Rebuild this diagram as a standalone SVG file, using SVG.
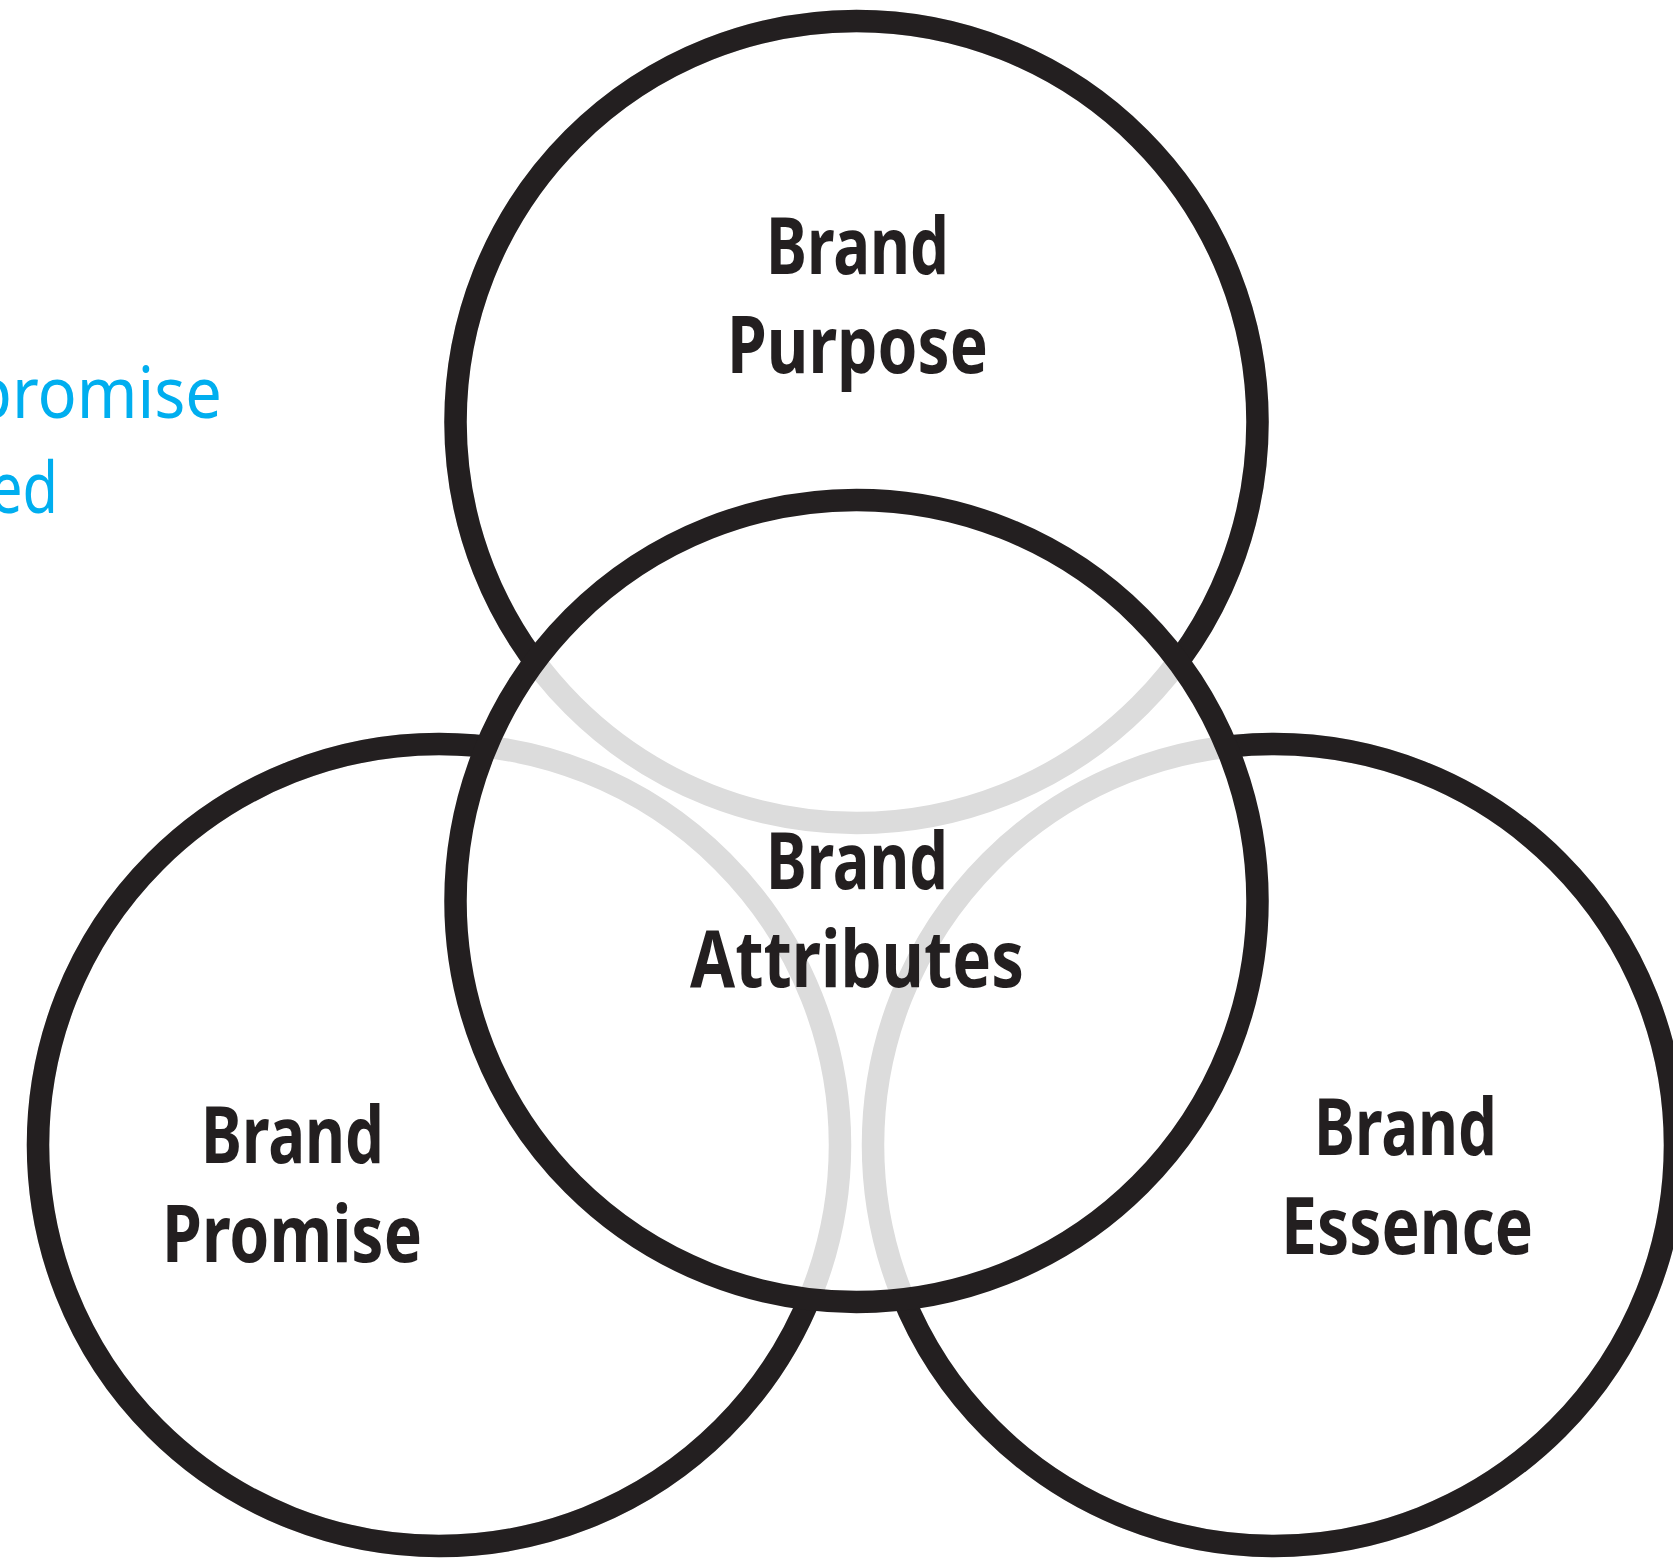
<svg xmlns="http://www.w3.org/2000/svg" width="1673" height="1558" viewBox="0 0 1673 1558">
<style>
.ring{fill:none;stroke-width:22.5}
.grey{stroke:#dcdcdc}
.black{stroke:#231f20}
.lbl{font-family:"Noto Sans","Open Sans","Liberation Sans",sans-serif;font-weight:700;font-size:78px;fill:#231f20}
.blue{font-family:"Noto Sans","Open Sans","Liberation Sans",sans-serif;font-weight:400;font-size:71px;fill:#00aeef}
</style>
<defs>
<mask id="outsideCenter" maskUnits="userSpaceOnUse" x="0" y="0" width="1673" height="1558">
<rect x="0" y="0" width="1673" height="1558" fill="white"/>
<circle cx="856.5" cy="901" r="392" fill="black"/>
</mask>
</defs>
<rect x="0" y="0" width="1673" height="1558" fill="#ffffff"/>
<g id="side-text">
<text class="blue" x="-28" y="418" textLength="250" lengthAdjust="spacingAndGlyphs">promise</text>
<text class="blue" x="-10" y="513" textLength="68" lengthAdjust="spacingAndGlyphs">ed</text>
</g>
<g id="connectors">
<circle class="ring grey" cx="856.5" cy="422" r="401"/>
<circle class="ring grey" cx="439" cy="1145" r="401"/>
<circle class="ring grey" cx="1274" cy="1145" r="401"/>
</g>
<g id="brand-purpose">
<circle class="ring black" cx="856.5" cy="422" r="401" mask="url(#outsideCenter)"/>
<text class="lbl" x="766" y="274" textLength="183" lengthAdjust="spacingAndGlyphs">Brand</text>
<text class="lbl" x="727" y="372.5" textLength="261" lengthAdjust="spacingAndGlyphs">Purpose</text>
</g>
<g id="brand-promise">
<circle class="ring black" cx="439" cy="1145" r="401" mask="url(#outsideCenter)"/>
<text class="lbl" x="201" y="1163" textLength="183" lengthAdjust="spacingAndGlyphs">Brand</text>
<text class="lbl" x="162" y="1262" textLength="260" lengthAdjust="spacingAndGlyphs">Promise</text>
</g>
<g id="brand-essence">
<circle class="ring black" cx="1274" cy="1145" r="401" mask="url(#outsideCenter)"/>
<text class="lbl" x="1314" y="1154.5" textLength="183" lengthAdjust="spacingAndGlyphs">Brand</text>
<text class="lbl" x="1281" y="1254" textLength="252" lengthAdjust="spacingAndGlyphs">Essence</text>
</g>
<g id="brand-attributes">
<circle class="ring black" cx="856.5" cy="901" r="401"/>
<text class="lbl" x="766" y="889" textLength="182" lengthAdjust="spacingAndGlyphs">Brand</text>
<text class="lbl" x="690" y="987" textLength="334" lengthAdjust="spacingAndGlyphs">Attributes</text>
</g>
</svg>
